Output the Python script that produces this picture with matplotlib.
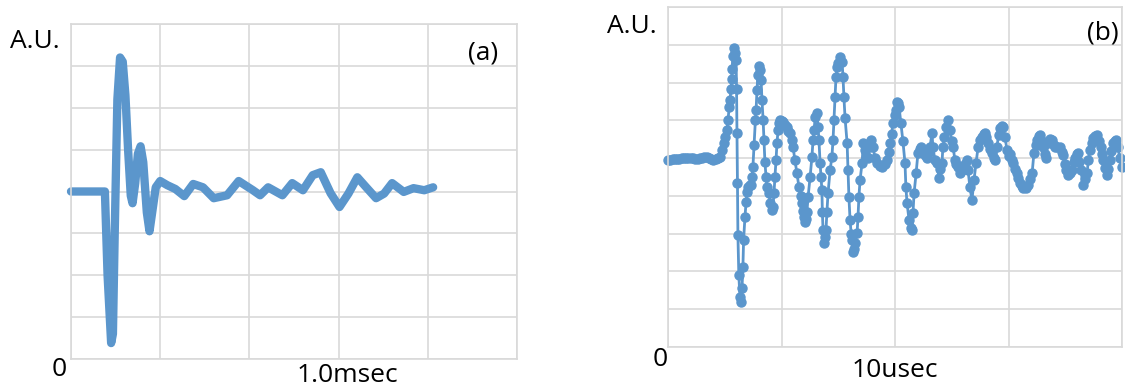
import matplotlib
matplotlib.use("Agg")
import matplotlib.pyplot as plt

plt.rcParams['font.family'] = ['Open Sans', 'DejaVu Sans']

# ---- data -----------------------------------------------------------------
# (a) waveform, time in grid units (5 divisions), amplitude 0..8 A.U.
time_a = [0.0, 0.38, 0.41, 0.45, 0.47, 0.49, 0.52, 0.55, 0.58, 0.61, 0.64,
          0.67, 0.69, 0.72, 0.75, 0.78, 0.81, 0.85, 0.88, 0.91, 0.95,
          1.0, 1.08, 1.17, 1.27, 1.37, 1.48, 1.6, 1.75, 1.88, 2.04, 2.12,
          2.21, 2.37, 2.48, 2.6, 2.71, 2.8, 2.91, 3.01, 3.11, 3.21, 3.31,
          3.42, 3.51, 3.6, 3.73, 3.84, 3.96, 4.06]
amp_a = [4.0, 4.0, 2.0, 0.38, 0.6, 3.0, 6.2, 7.2, 7.1, 6.3, 5.0,
         3.9, 3.72, 4.2, 4.9, 5.08, 4.7, 3.5, 3.05, 3.5, 4.1,
         4.25, 4.15, 4.06, 3.89, 4.18, 4.1, 3.84, 3.91, 4.25, 4.03, 3.91,
         4.1, 3.91, 4.2, 4.03, 4.39, 4.46, 3.96, 3.63, 3.95, 4.34, 4.1,
         3.84, 3.95, 4.2, 3.99, 4.08, 4.03, 4.1]

# (b) waveform, time in usec (0..20), amplitude 0..9 A.U.
time_b = [0.0, 0.1, 0.2, 0.3, 0.4, 0.5, 0.6, 0.7, 0.8, 0.9, 1.0, 1.1, 1.2,
          1.3, 1.4, 1.5, 1.6, 1.7, 1.8, 1.9, 2.0, 2.1,
          2.20, 2.30, 2.38, 2.45, 2.51, 2.60, 2.64, 2.70, 2.73, 2.78, 2.80,
          2.82, 2.86, 2.91, 2.95, 3.00, 3.02, 3.04, 3.06, 3.08, 3.12, 3.17,
          3.22, 3.26, 3.30, 3.33, 3.39, 3.44, 3.48, 3.52, 3.60, 3.66, 3.70,
          3.74, 3.79, 3.85, 3.88, 3.92, 3.96, 4.01, 4.05, 4.10, 4.14, 4.19,
          4.23, 4.27, 4.32, 4.36, 4.45, 4.50, 4.58, 4.62, 4.67, 4.71, 4.76,
          4.80, 4.85, 4.89, 4.93, 5.00, 5.07, 5.15, 5.24, 5.30, 5.37, 5.45,
          5.51, 5.59, 5.68, 5.77, 5.84, 5.90, 5.95, 5.99, 6.04, 6.08, 6.12,
          6.17, 6.26, 6.34, 6.39, 6.44, 6.48, 6.56, 6.61, 6.65, 6.70, 6.74,
          6.78, 6.80, 6.83, 6.87, 6.92, 6.96, 7.00, 7.05, 7.14, 7.22, 7.27,
          7.31, 7.36, 7.40, 7.45, 7.49, 7.58, 7.67, 7.71, 7.75, 7.80, 7.89,
          7.93, 7.97, 8.02, 8.07, 8.11, 8.15, 8.20, 8.24, 8.33, 8.37, 8.41,
          8.46, 8.55, 8.60, 8.68, 8.75, 8.81, 8.88, 8.94, 9.03, 9.12, 9.21,
          9.32, 9.43, 9.55, 9.65, 9.72, 9.78, 9.85, 9.91, 9.98, 10.04, 10.09,
          10.15, 10.18, 10.26, 10.35, 10.44, 10.48, 10.53, 10.62, 10.70,
          10.75, 10.79, 10.84, 10.93, 11.01, 11.08, 11.15, 11.23, 11.32,
          11.41, 11.48, 11.54, 11.63, 11.67, 11.76, 11.85, 11.94, 12.00,
          12.07, 12.11, 12.18, 12.25, 12.33, 12.42, 12.50, 12.56, 12.64,
          12.70, 12.78, 12.86, 12.93, 13.00, 13.09, 13.17, 13.22, 13.30,
          13.39, 13.48, 13.57, 13.66, 13.75, 13.83, 13.90, 13.96, 14.03,
          14.10, 14.18, 14.27, 14.35, 14.41, 14.49, 14.56, 14.63, 14.70,
          14.76, 14.85, 14.93, 15.00, 15.07, 15.14, 15.20, 15.28, 15.37,
          15.44, 15.51, 15.58, 15.64, 15.75, 15.86, 15.95, 16.04, 16.12,
          16.20, 16.26, 16.33, 16.39, 16.46, 16.52, 16.60, 16.65, 16.74,
          16.83, 16.92, 17.00, 17.05, 17.15, 17.27, 17.35, 17.40, 17.48,
          17.53, 17.62, 17.70, 17.80, 17.88, 17.93, 18.00, 18.06, 18.12,
          18.19, 18.28, 18.37, 18.46, 18.52, 18.59, 18.66, 18.72, 18.80,
          18.90, 18.98, 19.07, 19.12, 19.16, 19.25, 19.34, 19.40, 19.47,
          19.53, 19.60, 19.67, 19.74, 19.82, 19.90, 20.00]
amp_b = [4.95, 4.96, 4.97, 4.97, 4.98, 4.98, 4.99, 5.0, 5.0, 5.01, 5.0,
         4.99, 4.98, 4.98, 4.99, 5.0, 5.02, 5.03, 5.0, 4.97, 4.96, 4.97,
         5.00, 5.04, 5.21, 5.40, 5.56, 5.74, 6.01, 6.35, 6.55, 6.83, 7.10,
         7.35, 7.70, 7.91, 7.78, 7.59, 6.83, 5.66, 4.34, 2.96, 1.90, 1.32,
         1.19, 1.56, 2.12, 2.83, 3.44, 3.84, 4.10, 4.23, 4.29, 4.29, 4.50,
         4.76, 5.34, 6.01, 6.27, 6.80, 7.20, 7.43, 7.33, 7.06, 6.53, 6.01,
         5.48, 4.89, 4.50, 4.23, 4.07, 3.81, 3.62, 3.70, 4.07, 4.50, 4.95,
         5.40, 5.74, 5.93, 6.01, 5.98, 5.95, 5.88, 5.82, 5.72, 5.66, 5.48,
         5.29, 4.95, 4.60, 4.23, 4.00, 3.81, 3.60, 3.44, 3.31, 3.38, 3.57,
         3.97, 4.50, 5.03, 5.48, 5.75, 6.08, 6.19, 5.82, 5.48, 4.87, 4.50,
         4.15, 3.57, 3.10, 2.75, 2.90, 3.10, 3.57, 4.07, 4.68, 5.03, 5.48,
         6.01, 6.61, 7.14, 7.40, 7.51, 7.67, 7.54, 7.14, 6.61, 6.06, 5.40,
         4.68, 3.97, 3.36, 3.00, 2.83, 2.51, 2.60, 2.75, 3.02, 3.44, 3.97,
         4.42, 4.87, 5.40, 5.21, 5.03, 5.00, 5.30, 5.48, 5.29, 5.00, 4.87,
         4.80, 4.76, 4.85, 4.95, 5.15, 5.40, 5.65, 5.93, 6.15, 6.27, 6.48,
         6.46, 6.35, 5.93, 5.44, 4.87, 4.23, 3.81, 3.36, 3.15,
         3.10, 3.54, 4.07, 4.60, 5.13, 5.25, 5.29, 5.21, 5.08,
         5.00, 5.15, 5.29, 5.66, 5.29, 4.95, 4.87, 4.47, 4.70,
         4.87, 5.29, 5.55, 5.82, 6.01, 5.74, 5.45, 5.29, 4.95,
         4.85, 4.76, 4.60, 4.68, 4.76, 4.85, 4.95, 4.68, 4.23,
         3.89, 4.42, 4.87, 5.29, 5.48, 5.56, 5.63, 5.66, 5.55,
         5.40, 5.25, 5.13, 5.00, 4.95, 5.29, 5.60, 5.79, 5.85,
         5.82, 5.56, 5.21, 5.05, 5.10, 4.95, 4.87, 4.70, 4.60,
         4.47, 4.34, 4.25, 4.21, 4.22, 4.29, 4.45, 4.60, 5.13,
         5.35, 5.48, 5.58, 5.61, 5.45, 5.29, 5.10, 5.00, 5.40,
         5.50, 5.48, 5.35, 5.29, 5.30, 5.29, 5.15, 5.08, 4.85,
         4.68, 4.55, 4.60, 4.68, 4.90, 5.00, 5.10, 5.13, 4.90,
         4.68, 4.29, 4.45, 4.60, 4.95, 5.21, 5.40, 5.53, 5.58,
         5.61, 5.45, 5.29, 5.10, 4.95, 4.75, 4.55, 4.72, 4.95,
         5.20, 5.40, 5.46, 5.48, 5.29, 5.00, 4.76]

BLUE = '#5b96cc'
GRID = '#d9d9d9'


def style_axes(ax, xticks, n_y):
    # excel-like plot area: grey grid + grey frame, no tick labels
    ax.set_xlim(xticks[0], xticks[-1])
    ax.set_ylim(0, n_y)
    ax.set_xticks(xticks)
    ax.set_yticks(range(0, n_y + 1))
    ax.tick_params(length=0, labelbottom=False, labelleft=False)
    ax.grid(True, color=GRID, linewidth=1.2)
    ax.set_axisbelow(True)
    for sp in ax.spines.values():
        sp.set_color(GRID)
        sp.set_linewidth(1.2)


fig = plt.figure(figsize=(11.25, 3.87), dpi=100)
W, H = 1125.0, 387.0

# panel (a)
ax_a = fig.add_axes([71 / W, 1 - 359 / H, 446 / W, 335 / H])
style_axes(ax_a, [0, 1, 2, 3, 4, 5], 8)
ax_a.plot(time_a, amp_a, color=BLUE, linewidth=6,
          solid_capstyle='round', solid_joinstyle='round', clip_on=False)

# panel (b)
ax_b = fig.add_axes([668 / W, 1 - 347 / H, 454 / W, 340 / H])
style_axes(ax_b, [0, 5, 10, 15, 20], 9)
ax_b.plot(time_b, amp_b, color=BLUE, linewidth=2, marker='o',
          markersize=6.5, clip_on=False)

# labels (text boxes in the original)
fs = 19
fig.text(10 / W, 1 - 48 / H, 'A.U.', fontsize=fs, va='baseline', ha='left')
fig.text(52 / W, 1 - 376 / H, '0', fontsize=fs, va='baseline', ha='left')
fig.text(347 / W, 1 - 382 / H, '1.0msec', fontsize=fs, va='baseline', ha='center')
fig.text(483 / W, 1 - 53 / H, '(a)', fontsize=fs, va='center', ha='center')

fig.text(607 / W, 1 - 33 / H, 'A.U.', fontsize=fs, va='baseline', ha='left')
fig.text(653 / W, 1 - 366 / H, '0', fontsize=fs, va='baseline', ha='left')
fig.text(895 / W, 1 - 377 / H, '10usec', fontsize=fs, va='baseline', ha='center')
fig.text(1103 / W, 1 - 33 / H, '(b)', fontsize=fs, va='center', ha='center')

fig.savefig('out.png', dpi=100)
